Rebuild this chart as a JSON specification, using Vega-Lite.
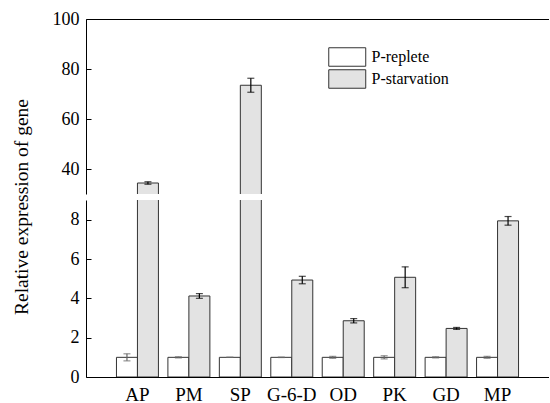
{
  "$schema": "https://vega.github.io/schema/vega-lite/v6.json",
  "background": "white",
  "padding": {"left": 10, "top": 10, "right": 0, "bottom": 0},
  "spacing": 6,
  "bounds": "flush",
  "config": {
    "view": {"stroke": null},
    "font": "Liberation Serif, Times New Roman, serif",
    "axis": {"grid": false, "domainColor": "black", "domainWidth": 1, "tickColor": "black", "labelColor": "black", "titleColor": "black", "labelFont": "Liberation Serif, Times New Roman, serif", "titleFont": "Liberation Serif, Times New Roman, serif", "titleFontWeight": "normal"},
    "legend": {"labelFont": "Liberation Serif, Times New Roman, serif"}
  },
  "data": {
    "values": [
      {"gene": "AP", "condition": "P-replete", "value": 1.0, "err": 0.18},
      {"gene": "AP", "condition": "P-starvation", "value": 34.4, "err": 0.5},
      {"gene": "PM", "condition": "P-replete", "value": 1.0, "err": 0.03},
      {"gene": "PM", "condition": "P-starvation", "value": 4.12, "err": 0.12},
      {"gene": "SP", "condition": "P-replete", "value": 1.0, "err": 0.0},
      {"gene": "SP", "condition": "P-starvation", "value": 73.5, "err": 2.8},
      {"gene": "G-6-D", "condition": "P-replete", "value": 1.0, "err": 0.01},
      {"gene": "G-6-D", "condition": "P-starvation", "value": 4.93, "err": 0.19},
      {"gene": "OD", "condition": "P-replete", "value": 1.0, "err": 0.05},
      {"gene": "OD", "condition": "P-starvation", "value": 2.86, "err": 0.11},
      {"gene": "PK", "condition": "P-replete", "value": 1.0, "err": 0.08},
      {"gene": "PK", "condition": "P-starvation", "value": 5.07, "err": 0.53},
      {"gene": "GD", "condition": "P-replete", "value": 1.0, "err": 0.03},
      {"gene": "GD", "condition": "P-starvation", "value": 2.47, "err": 0.05},
      {"gene": "MP", "condition": "P-replete", "value": 1.0, "err": 0.05},
      {"gene": "MP", "condition": "P-starvation", "value": 7.94, "err": 0.22}
    ]
  },
  "transform": [
    {"calculate": "datum.value - datum.err", "as": "lo"},
    {"calculate": "datum.value + datum.err", "as": "hi"}
  ],
  "vconcat": [
    {
      "width": 463,
      "height": 175,
      "resolve": {"axis": {"y": "independent"}},
      "layer": [
        {
          "mark": {"type": "bar", "clip": true, "stroke": "#333", "strokeWidth": 1},
          "encoding": {
            "x": {"field": "gene", "type": "nominal", "sort": null, "scale": {"paddingInner": 0.184, "paddingOuter": 0.592}, "axis": {"orient": "top", "labels": false, "ticks": false, "title": null}},
            "xOffset": {"field": "condition", "type": "nominal", "scale": {"paddingInner": 0, "paddingOuter": 0}},
            "y": {"field": "value", "type": "quantitative", "scale": {"domain": [30, 100], "nice": false, "zero": false}, "axis": {"orient": "left", "values": [40, 60, 80, 100], "tickSize": -5, "labelPadding": 12, "labelFontSize": 18, "title": null}},
            "fill": {"field": "condition", "type": "nominal", "scale": {"domain": ["P-replete", "P-starvation"], "range": ["white", "#e3e3e3"]},
              "legend": {"orient": "none", "legendX": 242, "legendY": 28, "title": null, "padding": 0, "symbolType": "M-1,-1H3V1H-1Z", "symbolSize": 342, "symbolStrokeColor": "#333", "symbolStrokeWidth": 1, "labelFontSize": 16, "labelColor": "black", "labelOffset": 23.5, "rowPadding": -4.5}}
          }
        },
        {
          "mark": {"type": "rule", "clip": true, "strokeWidth": 1.2},
          "encoding": {
            "x": {"field": "gene", "type": "nominal", "sort": null, "axis": {"orient": "top", "labels": false, "ticks": false, "title": null}},
            "xOffset": {"field": "condition", "type": "nominal"},
            "y": {"field": "lo", "type": "quantitative", "axis": {"orient": "right", "labels": false, "ticks": false, "title": null}},
            "y2": {"field": "hi"},
            "color": {"condition": {"test": "datum.condition === 'P-replete'", "value": "#666"}, "value": "black"}
          }
        },
        {
          "mark": {"type": "tick", "clip": true, "orient": "horizontal", "size": 7, "thickness": 1.2},
          "encoding": {
            "x": {"field": "gene", "type": "nominal", "sort": null, "axis": {"orient": "top", "labels": false, "ticks": false, "title": null}},
            "xOffset": {"field": "condition", "type": "nominal"},
            "y": {"field": "lo", "type": "quantitative", "axis": null},
            "color": {"condition": {"test": "datum.condition === 'P-replete'", "value": "#666"}, "value": "black"}
          }
        },
        {
          "mark": {"type": "tick", "clip": true, "orient": "horizontal", "size": 7, "thickness": 1.2},
          "encoding": {
            "x": {"field": "gene", "type": "nominal", "sort": null, "axis": {"orient": "top", "labels": false, "ticks": false, "title": null}},
            "xOffset": {"field": "condition", "type": "nominal"},
            "y": {"field": "hi", "type": "quantitative", "axis": null},
            "color": {"condition": {"test": "datum.condition === 'P-replete'", "value": "#666"}, "value": "black"}
          }
        }
      ]
    },
    {
      "width": 463,
      "height": 177,
      "resolve": {"axis": {"y": "independent"}},
      "layer": [
        {
          "mark": {"type": "bar", "clip": true, "stroke": "#333", "strokeWidth": 1},
          "encoding": {
            "x": {"field": "gene", "type": "nominal", "sort": null, "scale": {"paddingInner": 0.184, "paddingOuter": 0.592}, "axis": {"orient": "bottom", "labels": true, "labelAngle": 0, "ticks": false, "title": null, "labelFontSize": 19, "labelPadding": 8}},
            "xOffset": {"field": "condition", "type": "nominal", "scale": {"paddingInner": 0, "paddingOuter": 0}},
            "y": {"field": "value", "type": "quantitative", "scale": {"domain": [0, 9], "nice": false}, "axis": {"orient": "left", "values": [0, 2, 4, 6, 8], "tickSize": -5, "labelPadding": 12, "labelFontSize": 18, "title": "Relative expression of gene", "titleFontSize": 19.5, "titleX": -59, "titleY": 6.5, "titleBaseline": "alphabetic", "titleAngle": -90}},
            "fill": {"field": "condition", "type": "nominal", "scale": {"domain": ["P-replete", "P-starvation"], "range": ["white", "#e3e3e3"]},
              "legend": {"orient": "none", "legendX": 242, "legendY": 28, "title": null, "padding": 0, "symbolType": "M-1,-1H3V1H-1Z", "symbolSize": 342, "symbolStrokeColor": "#333", "symbolStrokeWidth": 1, "labelFontSize": 16, "labelColor": "black", "labelOffset": 23.5, "rowPadding": -4.5}}
          }
        },
        {
          "mark": {"type": "rule", "clip": true, "strokeWidth": 1.2},
          "encoding": {
            "x": {"field": "gene", "type": "nominal", "sort": null, "axis": {"orient": "bottom", "labels": true, "labelAngle": 0, "ticks": false, "title": null, "labelFontSize": 19, "labelPadding": 8}},
            "xOffset": {"field": "condition", "type": "nominal"},
            "y": {"field": "lo", "type": "quantitative", "axis": {"orient": "right", "labels": false, "ticks": false, "title": null}},
            "y2": {"field": "hi"},
            "color": {"condition": {"test": "datum.condition === 'P-replete'", "value": "#666"}, "value": "black"}
          }
        },
        {
          "mark": {"type": "tick", "clip": true, "orient": "horizontal", "size": 7, "thickness": 1.2},
          "encoding": {
            "x": {"field": "gene", "type": "nominal", "sort": null, "axis": {"orient": "bottom", "labels": true, "labelAngle": 0, "ticks": false, "title": null, "labelFontSize": 19, "labelPadding": 8}},
            "xOffset": {"field": "condition", "type": "nominal"},
            "y": {"field": "lo", "type": "quantitative", "axis": null},
            "color": {"condition": {"test": "datum.condition === 'P-replete'", "value": "#666"}, "value": "black"}
          }
        },
        {
          "mark": {"type": "tick", "clip": true, "orient": "horizontal", "size": 7, "thickness": 1.2},
          "encoding": {
            "x": {"field": "gene", "type": "nominal", "sort": null, "axis": {"orient": "bottom", "labels": true, "labelAngle": 0, "ticks": false, "title": null, "labelFontSize": 19, "labelPadding": 8}},
            "xOffset": {"field": "condition", "type": "nominal"},
            "y": {"field": "hi", "type": "quantitative", "axis": null},
            "color": {"condition": {"test": "datum.condition === 'P-replete'", "value": "#666"}, "value": "black"}
          }
        }
      ]
    }
  ]
}
